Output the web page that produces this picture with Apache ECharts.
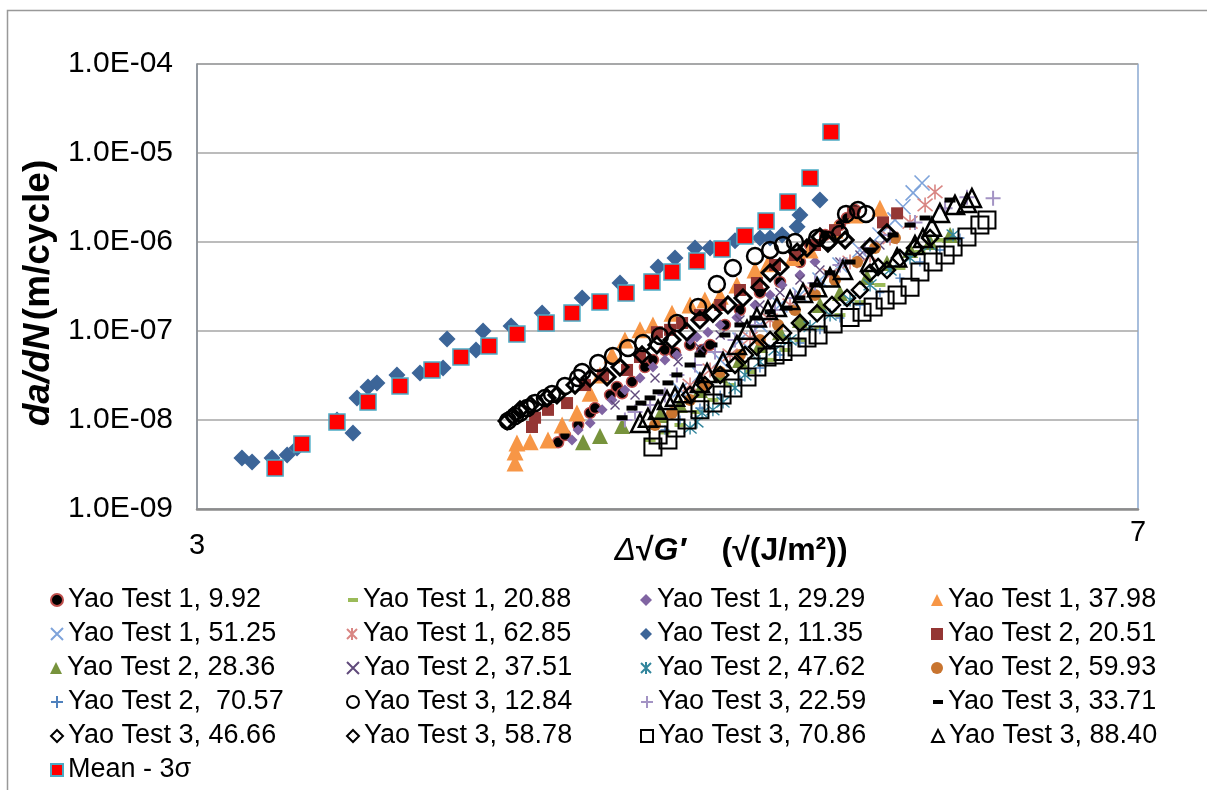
<!DOCTYPE html>
<html><head><meta charset="utf-8">
<script src="https://cdn.jsdelivr.net/npm/echarts@6/dist/echarts.min.js"></script>
<style>html,body{margin:0;padding:0;background:#fff}#c{width:1207px;height:790px}</style>
</head><body><div id="c"></div>
<script>
// ---- data (x: Δ√G', y: da/dN) ----
const xTicks = [3, 7];
const yTickDecades = [1e-9, 1e-8, 1e-7, 1e-6, 1e-5, 1e-4];

const t1_992 = [[4.535,5.62e-9],[4.564,6.78e-9],[4.62,8.79e-9],[4.671,1.2e-8],[4.692,1.36e-8],[4.756,1.91e-8],[4.785,2.35e-8],[4.807,2.0e-8],[4.849,2.69e-8],[4.904,3.93e-8],[4.938,4.73e-8],[4.989,6.12e-8],[5.032,5.7e-8],[5.096,6.97e-8],[5.147,6.12e-8],[5.181,6.97e-8],[5.244,1.17e-7],[5.308,1.72e-7],[5.393,2.71e-7],[5.478,3.56e-7],[5.563,5.96e-7],[5.606,9.25e-7],[5.67,1.2e-6],[5.733,1.55e-6],[5.763,1.86e-6],[5.797,2.29e-6]];
const t1_2088 = [[4.926,5.96e-9],[4.989,7.25e-9],[5.053,8.79e-9],[5.125,1.23e-8],[5.193,1.68e-8],[5.266,2.47e-8],[5.351,3.46e-8],[5.436,4.73e-8],[5.499,6.12e-8],[5.563,7.93e-8],[5.648,1.08e-7],[5.733,1.51e-7],[5.818,2.11e-7],[5.903,3.29e-7],[5.988,5.1e-7],[6.073,7.72e-7],[6.158,1.05e-6]];
const t1_2929 = [[4.594,5.96e-9],[4.62,7.72e-9],[4.671,9.25e-9],[4.722,1.3e-8],[4.764,1.68e-8],[4.819,2.17e-8],[4.883,2.96e-8],[4.938,3.93e-8],[4.989,4.73e-8],[5.04,5.38e-8],[5.096,7.93e-8],[5.125,8.57e-8],[5.172,9.7e-8],[5.224,1.17e-7],[5.295,1.42e-7],[5.372,1.96e-7],[5.436,2.54e-7],[5.487,3.29e-7],[5.563,4.26e-7],[5.627,6.0e-7]];
const t1_3798 = [[4.352,3.29e-9],[4.352,4.37e-9],[4.36,5.52e-9],[4.416,5.7e-9],[4.492,5.96e-9],[4.552,8.79e-9],[4.615,1.2e-8],[4.671,2.0e-8],[4.713,3.21e-8],[4.764,5.38e-8],[4.819,7.93e-8],[4.883,1.03e-7],[4.938,1.17e-7],[5.019,1.58e-7],[5.096,1.96e-7],[5.159,2.23e-7],[5.224,2.45e-7],[5.295,3.29e-7],[5.372,4.84e-7],[5.427,5.7e-7],[5.533,6.7e-7],[5.606,8.13e-7],[5.712,1.36e-6],[5.797,2.01e-6],[5.903,2.4e-6]];
const t1_5125 = [[5.053,2.17e-8],[5.138,3.21e-8],[5.224,4.73e-8],[5.308,7.93e-8],[5.393,1.17e-7],[5.478,1.96e-7],[5.563,2.54e-7],[5.648,3.74e-7],[5.733,5.52e-7],[5.818,8.13e-7],[5.903,1.2e-6],[5.967,1.77e-6],[6.001,2.49e-6],[6.044,3.56e-6],[6.082,4.6e-6]];
const t1_6285 = [[5.096,2.47e-8],[5.181,3.65e-8],[5.266,5.38e-8],[5.351,8.34e-8],[5.436,1.33e-7],[5.521,1.96e-7],[5.606,2.89e-7],[5.691,4.26e-7],[5.776,5.96e-7],[5.861,7.14e-7],[5.946,1.11e-6],[6.031,1.66e-6],[6.095,2.61e-6],[6.137,3.65e-6]];
const t2_1135 = [[3.191,3.74e-9],[3.234,3.37e-9],[3.319,3.74e-9],[3.383,4.05e-9],[3.425,4.84e-9],[3.595,1.0e-8],[3.663,7.14e-9],[3.68,1.77e-8],[3.727,2.35e-8],[3.765,2.61e-8],[3.85,3.21e-8],[3.948,3.38e-8],[4.046,3.84e-8],[4.063,8.13e-8],[4.186,6.12e-8],[4.216,1.0e-7],[4.335,1.14e-7],[4.467,1.59e-7],[4.637,2.35e-7],[4.798,3.46e-7],[4.96,5.24e-7],[5.032,6.6e-7],[5.117,8.57e-7],[5.181,8.57e-7],[5.287,1.03e-6],[5.393,1.11e-6],[5.436,1.11e-6],[5.487,1.2e-6],[5.551,1.48e-6],[5.563,2.01e-6],[5.648,2.97e-6]];
const t2_2051 = [[4.424,8.34e-9],[4.437,1.06e-8],[4.492,1.3e-8],[4.573,1.55e-8],[4.649,2.47e-8],[4.726,3.21e-8],[4.828,3.65e-8],[4.883,5.1e-8],[4.955,9.7e-8],[5.011,1.03e-7],[5.062,1.23e-7],[5.138,1.51e-7],[5.224,1.96e-7],[5.308,2.89e-7],[5.38,3.46e-7],[5.457,5.52e-7],[5.542,7.14e-7],[5.627,9.25e-7],[5.712,1.36e-6],[5.789,2.15e-6],[5.916,1.66e-6],[5.976,2.1e-6]];
const t2_2836 = [[4.641,5.62e-9],[4.713,6.6e-9],[4.807,8.57e-9],[4.968,1.14e-8],[5.053,1.47e-8],[5.138,2.17e-8],[5.224,3.21e-8],[5.308,4.73e-8],[5.393,6.97e-8],[5.478,9.7e-8],[5.563,1.33e-7],[5.648,1.96e-7],[5.733,2.67e-7],[5.848,4.05e-7],[5.933,5.8e-7],[6.031,8.13e-7],[6.116,1.0e-6],[6.201,1.2e-6]];
const t2_3751 = [[4.777,1.47e-8],[4.862,1.91e-8],[4.947,2.96e-8],[5.045,4.5e-8],[5.138,6.44e-8],[5.224,9.02e-8],[5.308,1.33e-7],[5.393,1.96e-7],[5.478,2.71e-7],[5.563,3.74e-7],[5.648,4.84e-7],[5.733,5.96e-7],[5.818,7.14e-7],[5.903,9.25e-7]];
const t2_4762 = [[5.096,8.13e-9],[5.125,9.5e-9],[5.147,1.2e-8],[5.193,1.3e-8],[5.236,1.59e-8],[5.287,2.29e-8],[5.329,3.21e-8],[5.393,4.5e-8],[5.457,6.12e-8],[5.521,7.93e-8],[5.606,1.12e-7],[5.691,1.51e-7],[5.776,2.23e-7],[5.861,3.29e-7],[5.946,4.84e-7],[6.031,6.6e-7],[6.116,9.25e-7],[6.214,1.2e-6]];
const t2_5993 = [[4.947,8.79e-9],[5.019,1.2e-8],[5.096,1.68e-8],[5.159,2.47e-8],[5.224,3.46e-8],[5.308,5.38e-8],[5.393,7.93e-8],[5.47,1.17e-7],[5.542,1.72e-7],[5.627,2.54e-7],[5.712,3.74e-7],[5.806,5.96e-7],[5.882,8.57e-7],[5.967,1.11e-6]];
const t2_7057 = [[4.989,7.72e-9],[5.053,1.0e-8],[5.138,1.36e-8],[5.224,1.91e-8],[5.308,2.81e-8],[5.393,3.84e-8],[5.478,5.38e-8],[5.563,7.33e-8],[5.648,1.03e-7],[5.733,1.4e-7],[5.818,1.96e-7],[5.903,2.71e-7],[5.988,3.93e-7],[6.073,5.96e-7],[6.158,8.13e-7],[6.243,1.11e-6]];
const t3_1284 = [[4.322,9.75e-9],[4.352,1.11e-8],[4.373,1.2e-8],[4.403,1.36e-8],[4.437,1.55e-8],[4.479,1.77e-8],[4.509,1.96e-8],[4.564,2.41e-8],[4.62,2.96e-8],[4.637,3.46e-8],[4.705,4.37e-8],[4.768,5.24e-8],[4.832,6.44e-8],[4.896,7.33e-8],[4.968,8.79e-8],[5.04,1.23e-7],[5.13,1.86e-7],[5.21,3.37e-7],[5.278,5.1e-7],[5.372,6.97e-7],[5.436,8.13e-7],[5.491,9.25e-7],[5.542,1.0e-6],[5.636,1.11e-6],[5.682,1.05e-6],[5.733,1.23e-6],[5.759,2.07e-6],[5.81,2.29e-6],[5.844,2.07e-6]];
const t3_2259 = [[4.819,1.0e-8],[4.862,1.23e-8],[4.926,1.47e-8],[4.989,1.91e-8],[5.04,3.21e-8],[5.117,4.15e-8],[5.202,5.8e-8],[5.287,7.93e-8],[5.372,1.17e-7],[5.457,1.72e-7],[5.542,2.35e-7],[5.627,3.46e-7],[5.733,5.52e-7],[5.839,8.57e-7],[5.946,1.2e-6],[6.052,1.66e-6],[6.18,2.4e-6],[6.273,3.19e-6],[6.384,3.1e-6]];
const t3_3371 = [[4.807,1.06e-8],[4.849,1.36e-8],[4.887,1.55e-8],[4.926,1.77e-8],[4.96,2.07e-8],[5.002,2.61e-8],[5.04,3.21e-8],[5.096,4.15e-8],[5.138,5.38e-8],[5.189,6.97e-8],[5.244,9.02e-8],[5.308,1.17e-7],[5.372,1.4e-7],[5.436,1.64e-7],[5.508,1.81e-7],[5.563,2.35e-7],[5.627,3.29e-7],[5.691,4.5e-7],[5.776,5.96e-7],[5.861,8.13e-7],[5.959,1.2e-6],[6.031,1.55e-6],[6.095,1.86e-6],[6.201,2.96e-6]];
const t3_4666 = [[4.318,9.75e-9],[4.343,1.11e-8],[4.373,1.3e-8],[4.416,1.47e-8],[4.488,1.77e-8],[4.53,1.91e-8],[4.607,2.47e-8],[4.671,2.96e-8],[4.743,3.05e-8],[4.798,3.93e-8],[4.892,5.38e-8],[4.955,6.97e-8],[5.019,7.93e-8],[5.083,9.75e-8],[5.138,1.33e-7],[5.193,1.58e-7],[5.257,1.96e-7],[5.321,2.35e-7],[5.393,3.1e-7],[5.436,4.5e-7],[5.478,5.24e-7],[5.551,7.72e-7],[5.593,8.57e-7],[5.648,1.14e-6],[5.682,9.7e-7],[5.755,1.05e-6],[5.861,8.79e-7],[5.933,1.27e-6]];
const t3_5878 = [[5.096,1.91e-8],[5.159,2.47e-8],[5.224,3.21e-8],[5.287,4.15e-8],[5.329,5.38e-8],[5.38,6.6e-8],[5.436,7.93e-8],[5.491,9.5e-8],[5.563,1.23e-7],[5.636,1.58e-7],[5.699,1.96e-7],[5.763,2.35e-7],[5.818,2.89e-7],[5.861,4.5e-7],[5.895,5.24e-7],[5.933,4.84e-7],[5.988,6.6e-7],[6.052,8.57e-7],[6.116,1.11e-6]];
const t3_7086 = [[4.938,4.98e-9],[4.96,6.78e-9],[5.002,5.96e-9],[5.036,8.13e-9],[5.083,1.0e-8],[5.138,1.3e-8],[5.193,1.55e-8],[5.232,1.91e-8],[5.278,2.29e-8],[5.338,3.05e-8],[5.38,3.93e-8],[5.423,5.1e-8],[5.457,5.38e-8],[5.491,5.87e-8],[5.551,6.6e-8],[5.593,8.34e-8],[5.64,9.02e-8],[5.704,1.2e-7],[5.776,1.42e-7],[5.827,1.62e-7],[5.874,1.86e-7],[5.925,2.23e-7],[5.976,2.54e-7],[6.031,3.1e-7],[6.073,4.6e-7],[6.129,5.96e-7],[6.18,7.14e-7],[6.214,8.79e-7],[6.273,1.14e-6],[6.328,1.55e-6],[6.358,1.77e-6]];
const t3_8840 = [[4.883,9.25e-9],[4.917,1.06e-8],[4.96,1.3e-8],[4.998,1.68e-8],[5.032,1.83e-8],[5.066,2.0e-8],[5.138,2.61e-8],[5.168,3.38e-8],[5.236,4.5e-8],[5.295,6.97e-8],[5.338,1.03e-7],[5.38,1.42e-7],[5.427,1.72e-7],[5.465,1.86e-7],[5.521,2.23e-7],[5.576,2.67e-7],[5.636,3.1e-7],[5.691,4.0e-7],[5.746,4.84e-7],[5.861,5.96e-7],[5.976,6.7e-7],[6.052,9.25e-7],[6.086,1.11e-6],[6.124,1.48e-6],[6.158,2.12e-6],[6.222,2.61e-6],[6.273,2.75e-6],[6.294,3.12e-6]];
const mean3s = [[3.332,2.89e-9],[3.446,5.37e-9],[3.595,9.5e-9],[3.727,1.59e-8],[3.863,2.41e-8],[3.999,3.65e-8],[4.122,5.1e-8],[4.241,6.78e-8],[4.36,9.25e-8],[4.484,1.23e-7],[4.594,1.59e-7],[4.713,2.12e-7],[4.824,2.67e-7],[4.934,3.56e-7],[5.019,4.6e-7],[5.125,6.12e-7],[5.232,8.34e-7],[5.329,1.17e-6],[5.419,1.72e-6],[5.512,2.81e-6],[5.606,5.24e-6],[5.695,1.72e-5]];

const seriesNames = ['Yao Test 1, 9.92','Yao Test 1, 20.88','Yao Test 1, 29.29','Yao Test 1, 37.98','Yao Test 1, 51.25','Yao Test 1, 62.85','Yao Test 2, 11.35','Yao Test 2, 20.51','Yao Test 2, 28.36','Yao Test 2, 37.51','Yao Test 2, 47.62','Yao Test 2, 59.93','Yao Test 2,  70.57','Yao Test 3, 12.84','Yao Test 3, 22.59','Yao Test 3, 33.71','Yao Test 3, 46.66','Yao Test 3, 58.78','Yao Test 3, 70.86','Yao Test 3, 88.40','Mean - 3\u03c3'];
const seriesData = [t1_992,t1_2088,t1_2929,t1_3798,t1_5125,t1_6285,t2_1135,t2_2051,t2_2836,t2_3751,t2_4762,t2_5993,t2_7057,t3_1284,t3_2259,t3_3371,t3_4666,t3_5878,t3_7086,t3_8840,mean3s];

// ---- styles ----
const P_X = 'path://M0,0L10,10M10,0L0,10';
const P_AST = 'path://M0,0L10,10M10,0L0,10M5,-1L5,11';
const P_PLUS = 'path://M5,0L5,10M0,5L10,5';
const T = 'rgba(0,0,0,0)';
const styles = [
  {symbol:'circle', size:11, it:{color:'#000', borderColor:'#C0504D', borderWidth:1.5}},
  {symbol:'rect', size:[11,4], it:{color:'#9BBB59'}},
  {symbol:'diamond', size:11, it:{color:'#8064A2'}},
  {symbol:'triangle', size:17, it:{color:'#F79646'}},
  {symbol:P_X, size:15, it:{color:T, borderColor:'#7EA3DA', borderWidth:1.6}},
  {symbol:P_AST, size:15, it:{color:T, borderColor:'#D98683', borderWidth:1.6}},
  {symbol:'diamond', size:17, it:{color:'#3C6598'}},
  {symbol:'rect', size:12, it:{color:'#943634'}},
  {symbol:'triangle', size:16, it:{color:'#77933C'}},
  {symbol:P_X, size:9, it:{color:T, borderColor:'#604A7B', borderWidth:1.4}},
  {symbol:P_AST, size:13, it:{color:T, borderColor:'#31859C', borderWidth:1.4}},
  {symbol:'circle', size:12, it:{color:'#C8742F'}},
  {symbol:P_PLUS, size:9, it:{color:T, borderColor:'#4F81BD', borderWidth:1.4}},
  {symbol:'circle', size:16, it:{color:T, borderColor:'#000', borderWidth:2.5}},
  {symbol:P_PLUS, size:15, it:{color:T, borderColor:'#A393C4', borderWidth:2}},
  {symbol:'rect', size:[11,5], it:{color:'#000'}},
  {symbol:'diamond', size:16, it:{color:T, borderColor:'#000', borderWidth:3}},
  {symbol:'diamond', size:16, it:{color:T, borderColor:'#000', borderWidth:2.5}},
  {symbol:'rect', size:17, it:{color:T, borderColor:'#000', borderWidth:2}},
  {symbol:'triangle', size:18, it:{color:T, borderColor:'#000', borderWidth:2.5}},
  {symbol:'rect', size:16, it:{color:'#FF0000', borderColor:'#4BACC6', borderWidth:1.5}}
];

const series = seriesNames.map((n,i)=>({
  name:n, type:'scatter', data:seriesData[i], symbol:styles[i].symbol,
  symbolSize:styles[i].size, itemStyle:Object.assign({opacity:1}, styles[i].it),
  emphasis:{disabled:true}, z:2+i*0.01
}));

const FONT = 'Liberation Sans, Arial, sans-serif';
// one legend per cell: 4 columns x 6 rows, order row-wise
const colTextX = [67, 363, 657, 948];
const rowCenterY = [600, 634, 668, 702, 736, 770];
const legends = seriesNames.map((n,k)=>{
  const col = k % 4, row = Math.floor(k / 4);
  const isDash = (k === 1 || k === 15);
  const iw = isDash ? 10 : 12, ih = isDash ? 4 : 12;
  return {
    left: colTextX[col] - iw - 5, top: rowCenterY[row] - 14, padding:0,
    itemWidth: iw, itemHeight: ih, selectedMode:false, data:[n],
    textStyle:{fontSize:27, fontFamily:FONT, color:'#000', lineHeight:28}
  };
});

function pad2(n){return (n<10?'0':'')+n;}
const chart = echarts.init(document.getElementById('c'), null, {renderer:'canvas'});
chart.setOption({
  animation:false,
  backgroundColor:'#fff',
  grid:{left:197, right:69, top:64, bottom:281, show:true, borderColor:'#6E93C6', borderWidth:1.2, backgroundColor:'#fff'},
  xAxis:{type:'value', min:xTicks[0], max:xTicks[1], interval:xTicks[1]-xTicks[0],
    axisLine:{show:true, onZero:false, lineStyle:{color:'#8C8C8C', width:2.5}},
    axisTick:{show:false}, splitLine:{show:false},
    axisLabel:{margin:9, fontSize:29, fontFamily:FONT, color:'#000',
      formatter:v=> v===xTicks[0] ? '{lo|'+v+'}' : '{hi|'+v+'}',
      rich:{lo:{fontSize:29, fontFamily:FONT, padding:[13,0,0,0]}, hi:{fontSize:29, fontFamily:FONT}}}},
  yAxis:{type:'log', logBase:10, min:yTickDecades[0], max:yTickDecades[yTickDecades.length-1],
    axisLine:{show:true, lineStyle:{color:'#8C8C8C', width:1.5}},
    axisTick:{show:false}, minorTick:{show:false},
    splitLine:{show:true, lineStyle:{color:'#A6A6A6', width:1.5}},
    axisLabel:{margin:24, fontSize:30, fontFamily:FONT, color:'#000',
      formatter:v=>{const e=Math.round(Math.log10(v)); return '1.0E'+(e<0?'-':'+')+pad2(Math.abs(e));}}},
  legend:legends,
  series:series,
  graphic:[
    {type:'rect', left:5, top:8, shape:{width:1220, height:800}, style:{fill:null, stroke:'#999', lineWidth:1.5}, silent:true, z:-10},
    {type:'text', x:39, y:293, rotation:Math.PI/2, style:{
      text:'{i|da/dN} {b|(m/cycle)}', align:'center', verticalAlign:'middle',
      rich:{i:{fontSize:37, fontWeight:'bold', fontStyle:'italic', fontFamily:FONT, fill:'#000'},
            b:{fontSize:37, fontWeight:'bold', fontFamily:FONT, fill:'#000'}}}},
    {type:'text', x:731, y:551, style:{
      text:'{d|\u0394}{b|\u221a}{i|G\u2032}{b|    (\u221a(J/m\u00b2))}', align:'center', verticalAlign:'middle',
      rich:{d:{fontSize:32, fontStyle:'italic', fontFamily:FONT, fill:'#000'},
            i:{fontSize:32, fontWeight:'bold', fontStyle:'italic', fontFamily:FONT, fill:'#000'},
            b:{fontSize:32, fontWeight:'bold', fontFamily:FONT, fill:'#000'}}}}
  ]
});
</script></body></html>
